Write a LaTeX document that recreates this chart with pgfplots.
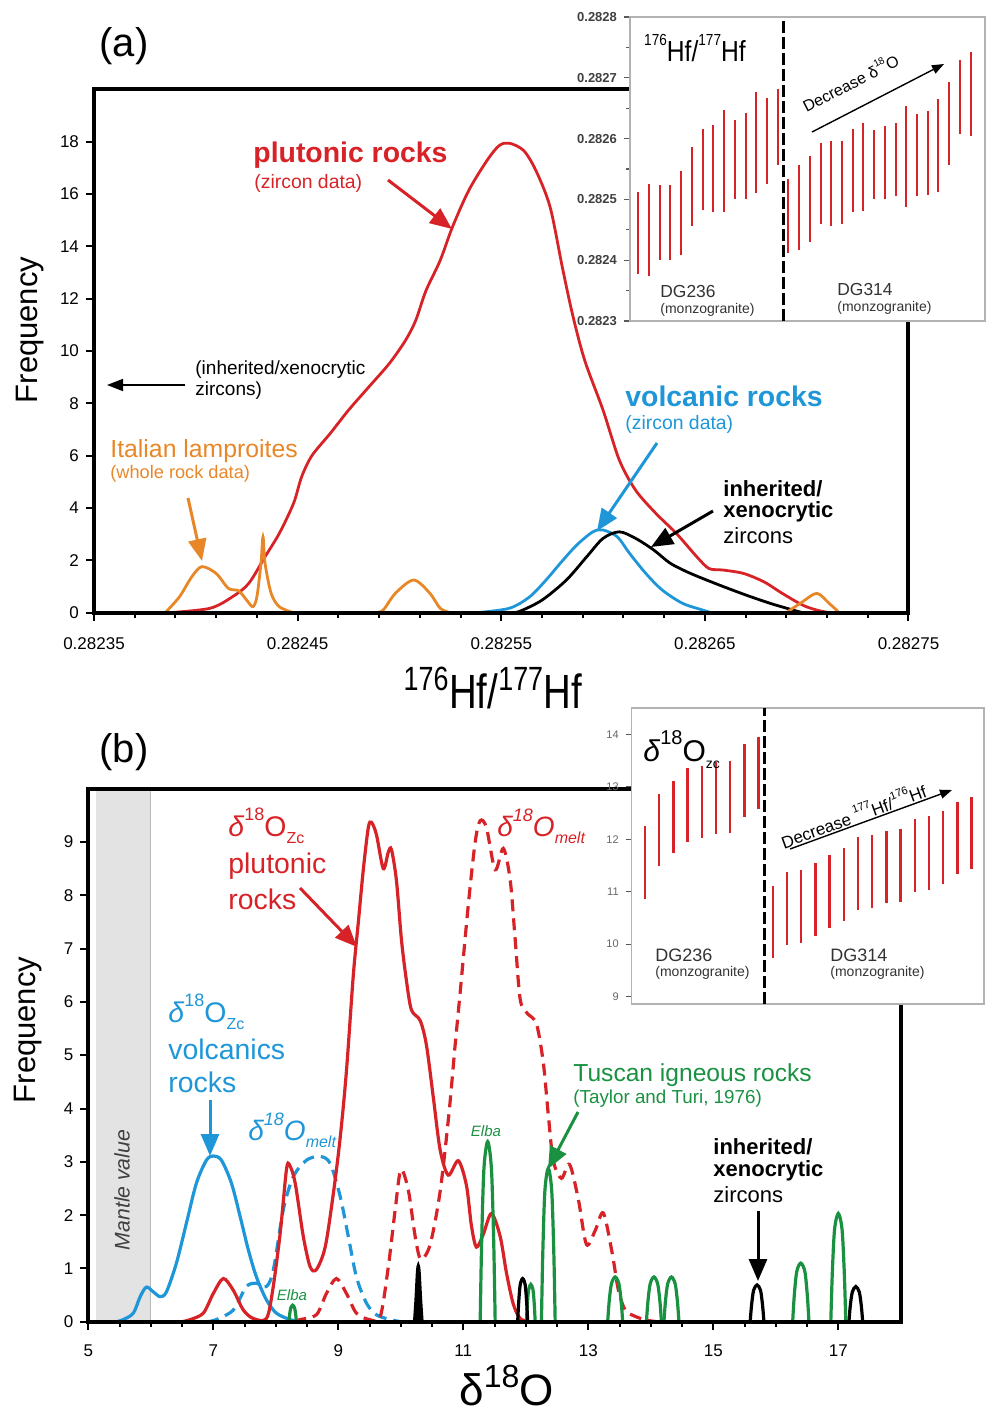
\documentclass[border=0pt]{standalone}
\usepackage{fontspec}
\setmainfont{Liberation Sans}
\usepackage{pgfplots}
\pgfplotsset{compat=1.18}
\usetikzlibrary{arrows.meta}
\definecolor{cred}{RGB}{215,35,40}
\definecolor{cblue}{RGB}{30,150,215}
\definecolor{corange}{RGB}{232,135,40}
\definecolor{cgreen}{RGB}{25,145,65}
\newcommand{\fs}[1]{\fontsize{#1}{#1}\selectfont}
\newcommand{\subr}[2]{\raisebox{-0.25em}{\fontsize{#1}{#1}\selectfont #2}}
\newcommand{\supr}[2]{\raisebox{0.55em}{\fontsize{#1}{#1}\selectfont #2}}
\tikzset{
  bigarrow/.style={line width=1.5pt, -{Triangle[length=11pt,width=9pt]}},
  thinarrow/.style={line width=0.8pt, -{Triangle[length=8pt,width=6pt]}},
  insarrow/.style={line width=0.7pt, -{Triangle[length=6pt,width=4.5pt]}},
}
\pgfplotsset{
  mainax/.style={
    scale only axis, anchor=south west,
    axis on top, clip=false,
    axis line style={line width=2pt},
    tick align=outside, xtick pos=bottom, ytick pos=left,
    major tick length=4pt, minor tick length=2.5pt,
    every tick/.style={black, line width=1pt},
    ticklabel style={font=\fs{8.5}},
    /pgf/number format/assume math mode=true,
  },
  insax/.style={
    scale only axis, anchor=south west,
    axis background/.style={fill=white},
    axis line style={gray!60, line width=0.6pt},
    xtick=\empty, tick align=outside, ytick pos=left,
    major tick length=3pt, minor tick length=2pt,
    every tick/.style={gray!70!black, line width=0.6pt},
    /pgf/number format/assume math mode=true,
  },
}
\begin{document}
\begin{tikzpicture}
\path (0,0) rectangle (492.5pt,-707pt);

% ================= PANEL (a) =================
\begin{axis}[mainax,
  at={(47pt,-306.35pt)}, width=407.25pt, height=261.7pt,
  xmin=0.28235, xmax=0.28275, ymin=0, ymax=20,
  xtick={0.28235,0.28245,0.28255,0.28265,0.28275},
  xticklabels={0.28235,0.28245,0.28255,0.28265,0.28275},
  minor x tick num=4,
  ytick={0,2,...,18},
  xticklabel style={yshift=-5pt},
]
% plutonic rocks (red)
\addplot[cred, line width=1.4pt, smooth, tension=0.5] coordinates {
(0.282387,0) (0.282407,0.17) (0.282418,0.61) (0.282426,1.12) (0.282434,2.14)
(0.282441,3.03) (0.282448,4.18) (0.282452,5.20) (0.282457,6.00) (0.282466,6.85)
(0.282475,7.74) (0.282485,8.63) (0.282495,9.52) (0.282503,10.41) (0.282508,11.17)
(0.282513,12.30) (0.282520,13.46) (0.282526,14.73) (0.282534,16.13) (0.282543,17.28)
(0.282549,17.85) (0.282554,17.94) (0.282561,17.66) (0.282567,16.90) (0.282574,15.50)
(0.282580,13.20) (0.282585,11.40) (0.282591,9.64) (0.282600,7.74) (0.282608,5.83)
(0.282616,4.68) (0.282626,3.79) (0.282636,3.03) (0.282646,2.14) (0.282652,1.69)
(0.282659,1.63) (0.282669,1.50) (0.282679,1.18) (0.282688,0.74) (0.282698,0.29)
(0.282705,0.10) (0.282711,0)
};
% volcanic rocks (blue)
\addplot[cblue, line width=1.4pt, smooth, tension=0.5] coordinates {
(0.282538,0) (0.282554,0.17) (0.282564,0.61) (0.282572,1.25) (0.282579,1.89)
(0.282587,2.58) (0.282595,3.09) (0.282600,3.16) (0.282607,2.90) (0.282613,2.27)
(0.282621,1.50) (0.282629,0.87) (0.282639,0.36) (0.282649,0.10) (0.282653,0)
};
% inherited / xenocrystic (black)
\addplot[black, line width=1.4pt, smooth, tension=0.5] coordinates {
(0.282555,0) (0.282559,0.05) (0.282570,0.48) (0.282582,1.25) (0.282592,2.14)
(0.282600,2.84) (0.282608,3.09) (0.282616,2.84) (0.282625,2.39) (0.282633,1.89)
(0.282643,1.50) (0.282657,1.06) (0.282670,0.68) (0.282682,0.36) (0.282692,0.13)
(0.282698,0)
};
% Italian lamproites (orange)
\addplot[corange, line width=1.4pt, smooth, tension=0.5] coordinates {
(0.282385,0) (0.282392,0.61) (0.282398,1.37) (0.282403,1.76) (0.282410,1.50)
(0.282416,0.93) (0.282421,0.84) (0.282425,0.48) (0.282428,0.23) (0.282430,0.61)
(0.282432,1.89) (0.282433,2.90) (0.282434,1.89) (0.282437,0.74) (0.282441,0.23)
(0.282448,0)
};
\addplot[corange, line width=1.4pt, smooth, tension=0.5] coordinates {
(0.282488,0) (0.282492,0.10) (0.282498,0.74) (0.282507,1.25) (0.282515,0.74)
(0.282520,0.17) (0.282525,0)
};
\addplot[corange, line width=1.4pt, smooth, tension=0.5] coordinates {
(0.282690,0) (0.282698,0.42) (0.282705,0.74) (0.282711,0.36) (0.282716,0)
};
\end{axis}

% inset (a)
\begin{axis}[insax,
  at={(315pt,-160.5pt)}, width=177.5pt, height=152pt,
  xmin=0.226, xmax=33.34, ymin=0.2823, ymax=0.2828,
  ytick={0.2823,0.2824,0.2825,0.2826,0.2827,0.2828},
  yticklabels={0.2823,0.2824,0.2825,0.2826,0.2827,0.2828},
  minor y tick num=1,
  yticklabel style={font=\fs{6.5}\bfseries, text=black!75},
]
\addplot[cred, line width=1pt, unbounded coords=jump] coordinates {
(1,0.282377)(1,0.282512)(1,nan)
(2,0.282374)(2,0.282526)(2,nan)
(3,0.282401)(3,0.282524)(3,nan)
(4,0.282400)(4,0.282524)(4,nan)
(5,0.282408)(5,0.282546)(5,nan)
(6,0.282457)(6,0.282586)(6,nan)
(7,0.282482)(7,0.282615)(7,nan)
(8,0.282479)(8,0.282623)(8,nan)
(9,0.282479)(9,0.282647)(9,nan)
(10,0.282501)(10,0.282630)(10,nan)
(11,0.282500)(11,0.282642)(11,nan)
(12,0.282510)(12,0.282676)(12,nan)
(13,0.282526)(13,0.282666)(13,nan)
(14,0.282557)(14,0.282681)(14,nan)
(15,0.282412)(15,0.282534)(15,nan)
(16,0.282417)(16,0.282556)(16,nan)
(17,0.282430)(17,0.282572)(17,nan)
(18,0.282459)(18,0.282593)(18,nan)
(19,0.282457)(19,0.282596)(19,nan)
(20,0.282460)(20,0.282596)(20,nan)
(21,0.282479)(21,0.282616)(21,nan)
(22,0.282481)(22,0.282625)(22,nan)
(23,0.282500)(23,0.282614)(23,nan)
(24,0.282500)(24,0.282620)(24,nan)
(25,0.282505)(25,0.282625)(25,nan)
(26,0.282488)(26,0.282653)(26,nan)
(27,0.282506)(27,0.282641)(27,nan)
(28,0.282508)(28,0.282646)(28,nan)
(29,0.282512)(29,0.282665)(29,nan)
(30,0.282556)(30,0.282693)(30,nan)
(31,0.282608)(31,0.282730)(31,nan)
(32,0.282605)(32,0.282742)
};
\draw[black, line width=1.5pt, dash pattern=on 6pt off 2pt] (axis cs:14.5,0.2823) -- (axis cs:14.5,0.2828);
\end{axis}

% ================= PANEL (b) =================
\begin{axis}[mainax,
  at={(44.15pt,-660.85pt)}, width=406.25pt, height=266.5pt,
  xmin=5, xmax=18, ymin=0, ymax=10,
  xtick={5,7,...,17}, minor x tick num=3,
  ytick={0,1,...,9},
  xticklabel style={yshift=-4pt},
]
\fill[gray!22] (axis cs:5.12,0) rectangle (axis cs:6.0,10);
\draw[gray!55, line width=0.6pt] (axis cs:6.0,0) -- (axis cs:6.0,10);
% volcanic zircon (blue solid)
\addplot[cblue, line width=1.6pt, smooth, tension=0.5] coordinates {
(5.45,0) (5.56,0.04) (5.72,0.16) (5.83,0.47) (5.93,0.65) (6.04,0.56) (6.15,0.47)
(6.25,0.56) (6.41,1.10) (6.57,1.85) (6.73,2.60) (6.89,3.03) (7.00,3.11) (7.13,3.03)
(7.29,2.60) (7.43,1.97) (7.56,1.35) (7.69,0.84) (7.85,0.41) (8.01,0.16) (8.23,0.04) (8.40,0)
};
% volcanic melt (blue dashed)
\addplot[cblue, line width=1.6pt, smooth, tension=0.5, dash pattern=on 6pt off 3.5pt] coordinates {
(6.90,0) (7.05,0.04) (7.32,0.22) (7.53,0.66) (7.69,0.72) (7.85,0.66) (7.96,0.97)
(8.12,2.10) (8.28,2.72) (8.49,3.03) (8.71,3.10) (8.87,2.97) (9.03,2.35) (9.16,1.60)
(9.29,0.84) (9.45,0.35) (9.61,0.13) (9.83,0.04) (10.0,0)
};
% plutonic zircon (red solid)
\addplot[cred, line width=1.6pt, smooth, tension=0.5] coordinates {
(6.50,0) (6.63,0.04) (6.84,0.16) (7.00,0.53) (7.16,0.81) (7.32,0.59) (7.48,0.22)
(7.64,0.06) (7.85,0.06) (7.95,0.59) (8.07,1.66) (8.17,2.85) (8.22,2.94) (8.31,2.60)
(8.44,1.60) (8.55,1.03) (8.65,0.98) (8.79,1.40) (8.92,2.40) (9.03,3.45) (9.13,4.70)
(9.24,6.50) (9.32,7.49) (9.40,8.48) (9.48,9.27) (9.53,9.37) (9.61,9.14) (9.72,8.50)
(9.80,8.81) (9.85,8.86) (9.93,8.28) (10.01,7.17) (10.09,6.40) (10.17,5.85) (10.31,5.65)
(10.41,5.19) (10.52,4.21) (10.63,3.22) (10.76,2.75) (10.92,3.02) (11.05,2.56)
(11.13,1.80) (11.21,1.40) (11.32,1.64) (11.45,2.03) (11.59,1.60) (11.69,0.92)
(11.80,0.33) (11.91,0.06) (12.05,0)
};
% plutonic melt (red dashed)
\addplot[cred, line width=1.6pt, smooth, tension=0.5, dash pattern=on 6pt off 3.5pt] coordinates {
(8.30,0) (8.39,0.04) (8.65,0.13) (8.81,0.53) (8.97,0.81) (9.13,0.53) (9.29,0.16)
(9.50,0.04) (9.67,0.09) (9.80,1.03) (9.91,2.10) (10.00,2.85) (10.12,2.47) (10.23,1.60)
(10.32,1.17) (10.47,1.45) (10.63,2.45) (10.77,3.90) (10.87,5.20) (10.95,6.18) (11.08,7.82)
(11.19,9.00) (11.27,9.40) (11.37,9.27) (11.51,8.48) (11.64,8.88) (11.75,8.29) (11.83,7.17)
(11.91,6.05) (12.02,5.79) (12.17,5.59) (12.28,4.86) (12.36,3.88) (12.44,3.02) (12.57,2.69)
(12.70,2.95) (12.84,2.30) (12.97,1.45) (13.11,1.71) (13.24,2.04) (13.38,1.30) (13.48,0.60)
(13.59,0.22) (13.75,0.10) (13.93,0.03) (14.10,0)
};
% Tuscan igneous rocks (green)
\addplot[cgreen, line width=1.6pt, smooth, tension=0.5] coordinates {(8.21,0) (8.222,0.14) (8.24,0.26) (8.27,0.31) (8.30,0.26) (8.318,0.14) (8.33,0)};
\addplot[cgreen, line width=1.6pt, smooth, tension=0.5] coordinates {(11.27,0) (11.294,1.52) (11.33,2.87) (11.39,3.38) (11.45,2.87) (11.486,1.52) (11.51,0)};
\addplot[cgreen, line width=1.6pt, smooth, tension=0.5] coordinates {(12.01,0) (12.024,0.32) (12.045,0.60) (12.08,0.70) (12.115,0.60) (12.136,0.32) (12.15,0)};
\addplot[cgreen, line width=1.6pt, smooth, tension=0.5] coordinates {(12.25,0) (12.272,1.30) (12.305,2.45) (12.36,2.88) (12.415,2.45) (12.448,1.30) (12.47,0)};
\addplot[cgreen, line width=1.6pt, smooth, tension=0.5] coordinates {(13.31,0) (13.334,0.38) (13.37,0.71) (13.43,0.84) (13.49,0.71) (13.526,0.38) (13.55,0)};
\addplot[cgreen, line width=1.6pt, smooth, tension=0.5] coordinates {(13.93,0) (13.954,0.38) (13.99,0.71) (14.05,0.84) (14.11,0.71) (14.146,0.38) (14.17,0)};
\addplot[cgreen, line width=1.6pt, smooth, tension=0.5] coordinates {(14.21,0) (14.234,0.38) (14.27,0.71) (14.33,0.84) (14.39,0.71) (14.426,0.38) (14.45,0)};
\addplot[cgreen, line width=1.6pt, smooth, tension=0.5] coordinates {(16.27,0) (16.296,0.50) (16.335,0.94) (16.40,1.10) (16.465,0.94) (16.504,0.50) (16.53,0)};
\addplot[cgreen, line width=1.6pt, smooth, tension=0.5] coordinates {(16.88,0) (16.904,0.91) (16.94,1.73) (17.00,2.03) (17.06,1.73) (17.096,0.91) (17.12,0)};
% inherited (black)
\addplot[black, line width=1.6pt, fill=black, smooth, tension=0.5] coordinates {(10.22,0) (10.245,0.45) (10.265,0.90) (10.28,1.05) (10.295,0.90) (10.315,0.45) (10.34,0)};
\addplot[black, line width=1.6pt, smooth, tension=0.5] coordinates {(11.87,0) (11.886,0.36) (11.91,0.69) (11.95,0.81) (11.99,0.69) (12.014,0.36) (12.03,0)};
\addplot[black, line width=1.6pt, smooth, tension=0.5] coordinates {(15.59,0) (15.612,0.31) (15.645,0.59) (15.70,0.69) (15.755,0.59) (15.788,0.31) (15.81,0)};
\addplot[black, line width=1.6pt, smooth, tension=0.5] coordinates {(17.17,0) (17.192,0.30) (17.225,0.56) (17.28,0.66) (17.335,0.56) (17.368,0.30) (17.39,0)};
\end{axis}

% inset (b)
\begin{axis}[insax,
  at={(315.85pt,-502pt)}, width=176.15pt, height=148pt,
  xmin=0.063, xmax=24.87, ymin=8.86, ymax=14.5,
  ytick={9,10,...,14},
  yticklabel style={font=\fs{5.5}, text=black!60},
]
\addplot[cred, line width=1.2pt, unbounded coords=jump] coordinates {
(1,10.86)(1,12.25)(1,nan)
(2,11.49)(2,12.86)(2,nan)
(3,11.73)(3,13.11)(3,nan)
(4,11.95)(4,13.35)(4,nan)
(5,12.02)(5,13.40)(5,nan)
(6,12.09)(6,13.47)(6,nan)
(7,12.11)(7,13.49)(7,nan)
(8,12.43)(8,13.81)(8,nan)
(9,12.58)(9,13.94)(9,nan)
(10,9.73)(10,11.10)(10,nan)
(11,9.99)(11,11.38)(11,nan)
(12,10.03)(12,11.41)(12,nan)
(13,10.16)(13,11.55)(13,nan)
(14,10.31)(14,11.70)(14,nan)
(15,10.45)(15,11.84)(15,nan)
(16,10.65)(16,12.05)(16,nan)
(17,10.68)(17,12.08)(17,nan)
(18,10.78)(18,12.16)(18,nan)
(19,10.81)(19,12.19)(19,nan)
(20,11.00)(20,12.39)(20,nan)
(21,11.03)(21,12.44)(21,nan)
(22,11.15)(22,12.53)(22,nan)
(23,11.33)(23,12.70)(23,nan)
(24,11.43)(24,12.80)
};
\draw[black, line width=1.5pt, dash pattern=on 6pt off 2pt] (axis cs:9.38,8.86) -- (axis cs:9.38,14.5);
\end{axis}

% ================= ANNOTATIONS (pixel units) =================
\begin{scope}[x=0.5pt, y=-0.5pt]
% panel a
\node[font=\fs{20}] at (124,46) {(a)};
\node[rotate=90, font=\fs{15.5}] at (30,330) {Frequency};
\node[font=\fs{24}, xscale=0.8] at (493,688) {\textsuperscript{176}Hf/\textsuperscript{177}Hf};
\node[anchor=west, inner sep=0, text=cred, font=\fs{14.2}\bfseries] at (253,155) {plutonic rocks};
\node[anchor=west, inner sep=0, text=cred, font=\fs{9.7}] at (254,183) {(zircon data)};
\draw[cred, bigarrow] (388,180) -- (452,229);
\node[anchor=west, inner sep=0, font=\fs{9.5}] at (195,370) {(inherited/xenocrytic};
\node[anchor=west, inner sep=0, font=\fs{9.5}] at (195,391) {zircons)};
\draw[black, thinarrow] (185,385) -- (107,385);
\node[anchor=west, inner sep=0, text=corange, font=\fs{12.4}] at (110,451) {Italian lamproites};
\node[anchor=west, inner sep=0, text=corange, font=\fs{9.1}] at (110,474) {(whole rock data)};
\draw[corange, bigarrow] (188,498) -- (202,561);
\node[anchor=west, inner sep=0, text=cblue, font=\fs{14.2}\bfseries] at (625,396) {volcanic rocks};
\node[anchor=west, inner sep=0, text=cblue, font=\fs{9.7}] at (625,424) {(zircon data)};
\draw[cblue, bigarrow] (657,443) -- (597,531);
\node[anchor=west, inner sep=0, font=\fs{11}\bfseries] at (723,489) {inherited/};
\node[anchor=west, inner sep=0, font=\fs{11}\bfseries] at (723,512) {xenocrytic};
\node[anchor=west, inner sep=0, font=\fs{11}] at (723,536) {zircons};
\draw[black, bigarrow] (713,511) -- (651,547);
% inset a
\node[font=\fs{14.5}, xscale=0.85] at (695,48) {\supr{8}{176}Hf/\supr{8}{177}Hf};
\node[rotate=27, font=\fs{8}, inner sep=0] at (850,82) {Decrease δ\supr{5}{18}O};
\draw[black, insarrow] (812,132) -- (944,64);
\node[anchor=west, inner sep=0, font=\fs{8.7}, text=black!80] at (660,292) {DG236};
\node[anchor=west, inner sep=0, font=\fs{7}, text=black!80] at (660,310) {(monzogranite)};
\node[anchor=west, inner sep=0, font=\fs{8.7}, text=black!80] at (837,290) {DG314};
\node[anchor=west, inner sep=0, font=\fs{7}, text=black!80] at (837,308) {(monzogranite)};
% panel b
\node[font=\fs{20}] at (124,752) {(b)};
\node[rotate=90, font=\fs{15.5}] at (28,1030) {Frequency};
\node[anchor=base west, inner sep=0, font=\fs{22}] at (459,1405) {δ\raisebox{9pt}{\fs{16}18}O};
\node[rotate=90, font=\fs{10.6}\itshape, text=black!75] at (122,1190) {Mantle value};
\node[anchor=west, inner sep=0, text=cred, font=\fs{14.2}] at (228,826) {\textit{δ}\supr{9}{18}O\subr{8}{Zc}};
\node[anchor=west, inner sep=0, text=cred, font=\fs{14.2}] at (228,866) {plutonic};
\node[anchor=west, inner sep=0, text=cred, font=\fs{14.2}] at (228,899) {rocks};
\draw[cred, bigarrow] (300,888) -- (357,947);
\node[anchor=west, inner sep=0, text=cred, font=\fs{14}\itshape] at (497,826) {δ\supr{9}{18}O\subr{8}{melt}};
\node[anchor=west, inner sep=0, text=cblue, font=\fs{14.2}] at (168,1012) {\textit{δ}\supr{9}{18}O\subr{8}{Zc}};
\node[anchor=west, inner sep=0, text=cblue, font=\fs{14.2}] at (168,1049) {volcanics};
\node[anchor=west, inner sep=0, text=cblue, font=\fs{14.2}] at (168,1082) {rocks};
\draw[cblue, bigarrow] (210,1100) -- (210,1156);
\node[anchor=west, inner sep=0, text=cblue, font=\fs{14}\itshape] at (248,1130) {δ\supr{9}{18}O\subr{8}{melt}};
\node[text=cgreen, font=\fs{7.5}\itshape] at (292,1295) {Elba};
\node[text=cgreen, font=\fs{7.5}\itshape] at (486,1131) {Elba};
\node[anchor=west, inner sep=0, text=cgreen, font=\fs{12.3}] at (573,1075) {Tuscan igneous rocks};
\node[anchor=west, inner sep=0, text=cgreen, font=\fs{9.4}] at (573,1099) {(Taylor and Turi, 1976)};
\draw[cgreen, bigarrow] (578,1112) -- (548,1169);
\node[anchor=west, inner sep=0, font=\fs{11}\bfseries] at (713,1147) {inherited/};
\node[anchor=west, inner sep=0, font=\fs{11}\bfseries] at (713,1171) {xenocrytic};
\node[anchor=west, inner sep=0, font=\fs{11}] at (713,1195) {zircons};
\draw[black, bigarrow] (758,1211) -- (758,1281);
% inset b
\node[anchor=west, inner sep=0, font=\fs{15}] at (643,750) {\textit{δ}\supr{10}{18}O\subr{7}{zc}};
\node[rotate=20, font=\fs{8.5}] at (853,815) {Decrease \supr{5.5}{177}Hf/\supr{5.5}{176}Hf};
\draw[black, insarrow] (790,849) -- (952,790);
\node[anchor=west, inner sep=0, font=\fs{9}, text=black!80] at (655,955) {DG236};
\node[anchor=west, inner sep=0, font=\fs{7}, text=black!80] at (655,973) {(monzogranite)};
\node[anchor=west, inner sep=0, font=\fs{9}, text=black!80] at (830,955) {DG314};
\node[anchor=west, inner sep=0, font=\fs{7}, text=black!80] at (830,973) {(monzogranite)};
\end{scope}
\end{tikzpicture}
\end{document}
